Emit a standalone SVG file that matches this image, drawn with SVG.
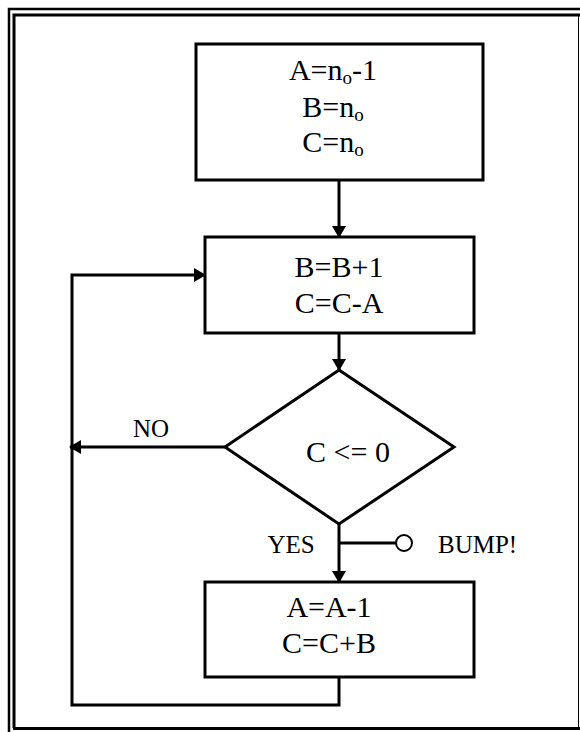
<svg xmlns="http://www.w3.org/2000/svg" width="580" height="732" viewBox="0 0 580 732">
  <style>
    .frame { fill: none; stroke: #000; }
    .box { fill: #fff; stroke: #000; stroke-width: 3; }
    .wire { fill: none; stroke: #000; stroke-width: 3; }
    .t { font-family: "Liberation Serif", serif; font-size: 30px; text-anchor: middle; fill: #000; }
    .lbl { font-family: "Liberation Serif", serif; font-size: 25px; fill: #000; }
    .sub { font-size: 19px; }
  </style>
  <defs>
    <marker id="arrow" markerWidth="12" markerHeight="14" refX="11" refY="7" orient="auto" markerUnits="userSpaceOnUse">
      <path d="M0,0 L12,7 L0,14 Z" fill="#000"/>
    </marker>
  </defs>

  <rect width="580" height="732" fill="#fff"/>

  <!-- double page frame -->
  <g id="frame">
    <path class="frame" stroke-width="2.5" d="M9,732 V9 H580"/>
    <path class="frame" stroke-width="3" d="M14,728 V15 H580"/>
    <path class="frame" stroke-width="3" d="M13,728.5 H580"/>
    <path class="frame" stroke-width="1" stroke="#888" d="M578.5,16 V728"/>
  </g>

  <!-- connectors -->
  <g id="connectors">
    <line class="wire" x1="339" y1="180" x2="339" y2="237" marker-end="url(#arrow)"/>
    <line class="wire" x1="339" y1="333" x2="339" y2="370" marker-end="url(#arrow)"/>
    <line class="wire" x1="339" y1="524" x2="339" y2="582" marker-end="url(#arrow)"/>
    <path class="wire" d="M339,677 V705 H72 V275 H205" marker-end="url(#arrow)"/>
    <line class="wire" x1="225" y1="447" x2="70" y2="447" marker-end="url(#arrow)"/>
    <line class="wire" stroke-width="2" x1="339" y1="543" x2="396" y2="543"/>
    <circle cx="404" cy="543" r="8" fill="#fff" stroke="#000" stroke-width="2"/>
    <text class="lbl" x="151" y="437" text-anchor="middle">NO</text>
    <text class="lbl" x="291" y="553" text-anchor="middle">YES</text>
    <text class="lbl" x="438" y="553">BUMP!</text>
  </g>

  <!-- initialisation -->
  <g id="init">
    <rect class="box" x="196" y="44" width="287" height="136"/>
    <text class="t" x="333" y="80">A=n<tspan class="sub" dy="4">o</tspan><tspan dy="-4">-1</tspan></text>
    <text class="t" x="333" y="117">B=n<tspan class="sub" dy="4">o</tspan></text>
    <text class="t" x="333" y="152">C=n<tspan class="sub" dy="4">o</tspan></text>
  </g>

  <!-- step -->
  <g id="step">
    <rect class="box" x="205" y="237" width="269" height="96"/>
    <text class="t" x="339" y="277">B=B+1</text>
    <text class="t" x="339" y="313">C=C-A</text>
  </g>

  <!-- test -->
  <g id="test">
    <polygon class="box" stroke-width="2.5" points="339,370 454,447 339,524 225,447"/>
    <text class="t" x="348" y="462">C &lt;= 0</text>
  </g>

  <!-- adjust -->
  <g id="adjust">
    <rect class="box" x="205" y="582" width="269" height="95"/>
    <text class="t" x="329" y="617">A=A-1</text>
    <text class="t" x="329" y="653">C=C+B</text>
  </g>
</svg>
